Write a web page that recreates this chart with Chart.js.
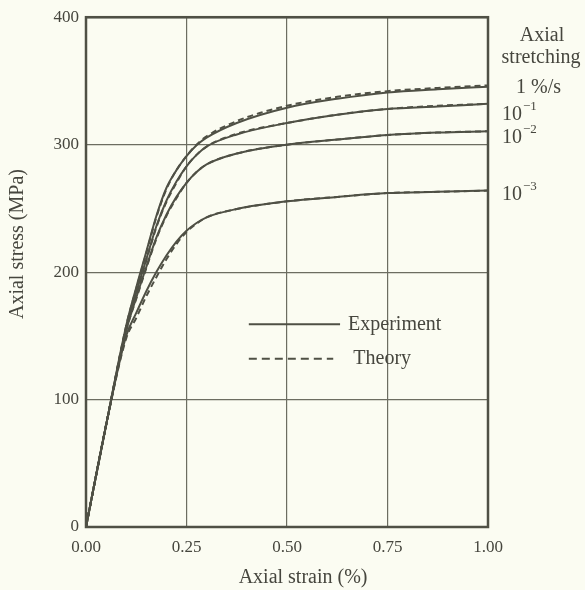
<!DOCTYPE html>
<html>
<head>
<meta charset="utf-8">
<script src="https://cdn.jsdelivr.net/npm/chart.js@4.4.0/dist/chart.umd.min.js"></script>
<style>
  html, body { margin: 0; padding: 0; background: #fbfcf2; }
  #wrap { width: 585px; height: 590px; }
</style>
</head>
<body>
<div id="wrap"><canvas id="chart" width="585" height="590"></canvas></div>
<script>
// Strain values (%) shared by every curve
const strain = [0, 0.05, 0.1, 0.125, 0.15, 0.175, 0.2, 0.225, 0.25, 0.275, 0.3, 0.375, 0.5, 0.625, 0.75, 0.875, 1.0];

// Experiment curves (MPa), one per stretching rate
const exp1 = [0, 80, 158, 188, 216, 244, 266, 280, 291, 299.5, 305.5, 317, 329, 336, 341, 343.5, 345.5];
const exp2 = [0, 80, 156, 184, 210, 236, 256, 271, 283, 292, 298.5, 308, 317, 323.5, 328, 330, 332];
const exp3 = [0, 80, 154, 180, 204, 227, 245, 259, 270, 278.5, 284.5, 293, 300, 304, 307.5, 309.5, 310.5];
const exp4 = [0, 80, 150, 168, 185, 200, 213, 224, 232.5, 238.5, 243, 249.5, 255.5, 259, 262, 263, 264];

// Theory curves (MPa)
const th1 = [0, 80, 158, 187, 215, 243, 265, 280, 291, 300, 306.5, 318.5, 330.5, 337.5, 342, 344.5, 346.5];
const th2 = [0, 80, 156, 183, 209, 235, 255, 270, 283, 292, 298.5, 308.5, 317, 323.5, 328, 330.5, 332];
const th3 = [0, 80, 154, 179, 203, 226, 244, 258, 270, 278.5, 284.5, 293, 300, 304, 307.5, 309.5, 310.5];
const th4 = [0, 80, 148, 164, 181, 196, 210, 222, 231.5, 238, 243, 249.5, 255.5, 259, 262, 263, 264];

// Rate labels on the right and the stress each one sits at
const rateLabels = ["1 %/s", "10", "10", "10"];
const rateExp = ["", "\u22121", "\u22122", "\u22123"];
const rateAt = [345, 326, 308, 263];

const xTicks = [0, 0.25, 0.5, 0.75, 1.0];

const INK = "#4f5045";
const GRID = "#6c6d61";
const TEXT = "#46463e";
const SERIF = "'Liberation Serif', 'DejaVu Serif', serif";

function pts(ys) {
    return strain.map((s, i) => ({ x: s, y: ys[i] }));
}

function curve(ys, dashed) {
    return {
        data: pts(ys),
        showLine: true,
        borderColor: INK,
        borderWidth: 2,
        borderDash: dashed ? [6, 4] : [],
        pointRadius: 0,
        cubicInterpolationMode: "monotone",
        fill: false
    };
}

/**
 * FRAME, TITLES, LEGEND AND RATE LABELS
 */
const extras = {
    id: "extras",
    afterDatasetsDraw(chart) {
        const { ctx, chartArea: a, scales } = chart;
        const x = scales.x, y = scales.y;
        ctx.save();

        // thick frame
        ctx.strokeStyle = INK;
        ctx.lineWidth = 2.5;
        ctx.strokeRect(a.left, a.top, a.right - a.left, a.bottom - a.top);

        ctx.fillStyle = TEXT;
        ctx.textBaseline = "middle";

        // axis titles
        ctx.font = "20px " + SERIF;
        ctx.textAlign = "center";
        ctx.fillText("Axial strain (%)", x.getPixelForValue(0.54), a.bottom + 51);
        ctx.save();
        ctx.translate(18, y.getPixelForValue(222));
        ctx.rotate(-Math.PI / 2);
        ctx.fillText("Axial stress (MPa)", 0, 0);
        ctx.restore();

        // legend inside the plot
        ctx.textAlign = "left";
        ctx.lineWidth = 2;
        ctx.beginPath();
        ctx.moveTo(x.getPixelForValue(0.405), y.getPixelForValue(159));
        ctx.lineTo(x.getPixelForValue(0.632), y.getPixelForValue(159));
        ctx.stroke();
        ctx.fillText("Experiment", x.getPixelForValue(0.652), y.getPixelForValue(159));

        ctx.setLineDash([8, 5]);
        ctx.beginPath();
        ctx.moveTo(x.getPixelForValue(0.405), y.getPixelForValue(132));
        ctx.lineTo(x.getPixelForValue(0.615), y.getPixelForValue(132));
        ctx.stroke();
        ctx.setLineDash([]);
        ctx.fillText("Theory", x.getPixelForValue(0.665), y.getPixelForValue(132));

        // right-hand labels
        const rx = a.right;
        ctx.textAlign = "center";
        ctx.fillText("Axial", rx + 54, a.top + 19);
        ctx.fillText("stretching", rx + 53, a.top + 41);
        rateLabels.forEach((lab, i) => {
            const py = y.getPixelForValue(rateAt[i]);
            ctx.textAlign = "left";
            ctx.font = "20px " + SERIF;
            if (!rateExp[i]) {
                ctx.fillText(lab, rx + 28, py);
            } else {
                ctx.fillText(lab, rx + 14, py + 3);
                const w = ctx.measureText(lab).width;
                ctx.font = "13px " + SERIF;
                ctx.fillText(rateExp[i], rx + 15 + w, py - 5);
            }
        });
        ctx.restore();
    }
};

new Chart(document.getElementById("chart"), {
    type: "scatter",
    data: {
        datasets: [
            curve(exp1, false), curve(exp2, false), curve(exp3, false), curve(exp4, false),
            curve(th1, true), curve(th2, true), curve(th3, true), curve(th4, true)
        ]
    },
    options: {
        responsive: false,
        animation: false,
        layout: { padding: { left: 0, right: 97, top: 12, bottom: 0 } },
        plugins: { legend: { display: false }, tooltip: { enabled: false } },
        scales: {
            x: {
                type: "linear",
                min: 0, max: 1,
                afterBuildTicks: s => { s.ticks = xTicks.map(v => ({ value: v })); },
                afterFit: s => { s.height = 63; },
                grid: { color: GRID, lineWidth: 1.2, drawTicks: false },
                border: { display: false },
                ticks: {
                    padding: 10,
                    color: TEXT,
                    font: { family: SERIF, size: 17 },
                    callback: v => Number(v).toFixed(2)
                }
            },
            y: {
                min: 0, max: 400,
                afterFit: s => { s.width = 86; },
                grid: { color: GRID, lineWidth: 1.2, drawTicks: false },
                border: { display: false },
                ticks: {
                    stepSize: 100,
                    padding: 7,
                    color: TEXT,
                    font: { family: SERIF, size: 17 }
                }
            }
        }
    },
    plugins: [extras]
});
</script>
</body>
</html>
